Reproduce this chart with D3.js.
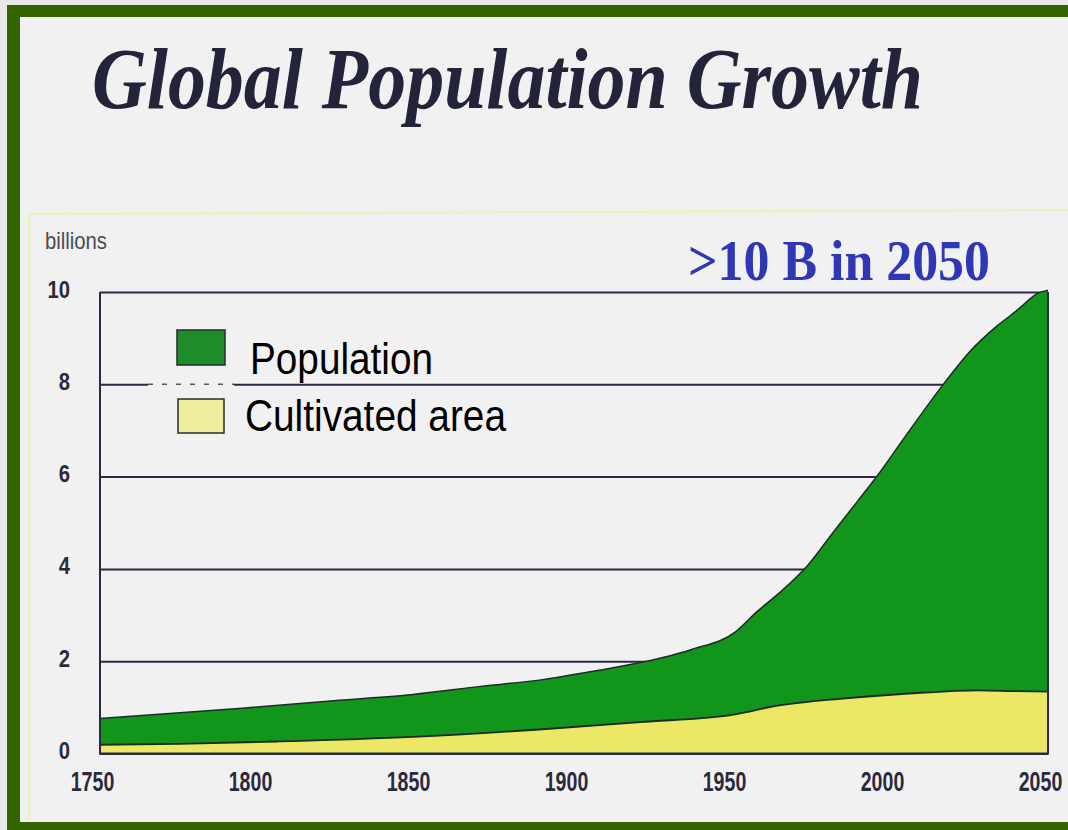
<!DOCTYPE html>
<html>
<head>
<meta charset="utf-8">
<script src="https://cdn.jsdelivr.net/npm/d3@7"></script>
<style>
  html, body { margin: 0; padding: 0; background: #ececec; }
  svg { display: block; }
</style>
</head>
<body>
<svg id="chart" width="1068" height="830"></svg>
<script>
// ---- data ----
const popYears  = [1750, 1795, 1823, 1849, 1871, 1889, 1905, 1921, 1937, 1951, 1958, 1965, 1974, 1982, 1990, 1996, 2004, 2017, 2025, 2034, 2040, 2047, 2050];
const popValues = [0.76, 0.98, 1.14, 1.28, 1.46, 1.59, 1.77, 1.97, 2.25, 2.63, 3.08, 3.48, 4.08, 4.79, 5.49, 6.02, 6.79, 8.01, 8.69, 9.27, 9.59, 9.98, 10.04];
const cultYears  = [1750, 1775, 1806, 1849, 1889, 1921, 1951, 1964, 1985, 2006, 2028, 2040, 2050];
const cultValues = [0.19, 0.21, 0.26, 0.36, 0.52, 0.68, 0.85, 1.03, 1.19, 1.30, 1.37, 1.35, 1.34];
const xTicks = [1750, 1800, 1850, 1900, 1950, 2000, 2050];
const yTicks = [0, 2, 4, 6, 8, 10];
const seriesNames = ["Population", "Cultivated area"];
const titleText = "Global Population Growth";
const noteText = ">10 B in 2050";
const unitText = "billions";

const popData = popYears.map((yr, i) => ({year: yr, value: popValues[i]}));
const cultData = cultYears.map((yr, i) => ({year: yr, value: cultValues[i]}));

const svg = d3.select("#chart");
const W = 1068, H = 830;

// ---- slide frame ----
svg.append("rect").attr("x", 0).attr("y", 0).attr("width", W).attr("height", H).attr("fill", "#e9e9e9");
svg.append("rect").attr("x", 20).attr("y", 17).attr("width", W - 20).attr("height", 805).attr("fill", "#f1f1f1");
svg.append("rect").attr("x", 7).attr("y", 5).attr("width", W - 7).attr("height", 12).attr("fill", "#336600");
svg.append("rect").attr("x", 7).attr("y", 5).attr("width", 13).attr("height", H - 5).attr("fill", "#336600");
svg.append("rect").attr("x", 7).attr("y", 822).attr("width", W - 7).attr("height", 8).attr("fill", "#336600");

// pale panel border
svg.append("path").attr("d", "M29,820 L29,214 L1068,210")
  .attr("fill", "none").attr("stroke", "#eef0c4").attr("stroke-width", 2.5);

// ---- title ----
svg.append("text")
  .attr("x", 92).attr("y", 108)
  .attr("font-family", "'Liberation Serif', 'Times New Roman', serif")
  .attr("font-weight", "bold").attr("font-style", "italic")
  .attr("font-size", 86)
  .attr("textLength", 831).attr("lengthAdjust", "spacingAndGlyphs")
  .attr("fill", "#23233a")
  .text(titleText);

// ---- scales ----
const x = d3.scaleLinear().domain([1750, 2050]).range([100, 1048]);
const y = d3.scaleLinear().domain([0, 10]).range([753.5, 292]);

// ---- grid lines + y labels ----
const ySx = 0.88;
const yPad = 30;
const yAxis = svg.append("g")
  .attr("transform", `translate(${x(1750)},0)`)
  .call(d3.axisLeft(y).tickValues(yTicks).tickSize(-(x(2050) - x(1750))).tickPadding(yPad).tickFormat(d3.format("d")));
yAxis.select(".domain").remove();
yAxis.selectAll(".tick line").attr("stroke", "#2a2a45").attr("stroke-width", 2);
yAxis.selectAll(".tick text")
  .attr("font-family", "'Liberation Sans', Arial, sans-serif")
  .attr("font-weight", "bold").attr("font-size", 23)
  .attr("fill", "#2a2a3c")
  .attr("x", -(yPad) / ySx)
  .attr("dy", "0.22em")
  .attr("transform", `scale(${ySx},1)`);

// legend partly hides the 8 gridline
svg.append("rect").attr("x", 148).attr("y", y(8) - 3).attr("width", 86).attr("height", 6).attr("fill", "#f1f1f1");
svg.append("line").attr("x1", 148).attr("x2", 234).attr("y1", y(8)).attr("y2", y(8))
  .attr("stroke", "#55556a").attr("stroke-width", 1.5).attr("stroke-dasharray", "5,9");

// ---- areas ----
const curve = d3.curveMonotoneX;
const area = d3.area().curve(curve).x(d => x(d.year)).y0(y(0)).y1(d => y(d.value));
const line = d3.line().curve(curve).x(d => x(d.year)).y(d => y(d.value));

svg.append("path").datum(popData).attr("d", area).attr("fill", "#11951a");
svg.append("path").datum(popData).attr("d", line).attr("fill", "none").attr("stroke", "#1f2a2a").attr("stroke-width", 1.5);
svg.append("path").datum(cultData).attr("d", area).attr("fill", "#ece866");
svg.append("path").datum(cultData).attr("d", line).attr("fill", "none").attr("stroke", "#1f2a2a").attr("stroke-width", 1.8);

// plot border (left, bottom, right)
svg.append("path")
  .attr("d", `M${x(1750)},${y(10)} L${x(1750)},${y(0)} L${x(2050)},${y(0)} L${x(2050)},${y(10)}`)
  .attr("fill", "none").attr("stroke", "#2a2a45").attr("stroke-width", 2);

// ---- x labels ----
const xSx = 0.70;
const xAxis = svg.append("g")
  .attr("transform", `translate(-8,${y(0) + 16})`)
  .call(d3.axisBottom(x).tickValues(xTicks).tickSize(0).tickPadding(0).tickFormat(d3.format("d")));
xAxis.select(".domain").remove();
xAxis.selectAll(".tick text")
  .attr("font-family", "'Liberation Sans', Arial, sans-serif")
  .attr("font-weight", "bold").attr("font-size", 28)
  .attr("fill", "#2a2a3c")
  .attr("dy", "0.78em")
  .attr("transform", `scale(${xSx},1)`);

// ---- unit label ----
svg.append("text")
  .attr("x", 45).attr("y", 249)
  .attr("font-family", "'Liberation Sans', Arial, sans-serif")
  .attr("font-size", 24).attr("fill", "#4a4a55")
  .attr("textLength", 62).attr("lengthAdjust", "spacingAndGlyphs")
  .text(unitText);

// ---- annotation ----
svg.append("text")
  .attr("x", 688).attr("y", 280)
  .attr("font-family", "'Liberation Serif', 'Times New Roman', serif")
  .attr("font-weight", "bold").attr("font-size", 57)
  .attr("textLength", 302).attr("lengthAdjust", "spacingAndGlyphs")
  .attr("fill", "#2f37b4")
  .text(noteText);

// ---- legend ----
const legendRows = [
  {name: seriesNames[0], fill: "#1e8c28", box: [177, 330, 48, 35], tx: 250, ty: 374, tl: 183},
  {name: seriesNames[1], fill: "#eeee9e", box: [178, 399, 46, 34], tx: 245, ty: 431, tl: 261}
];
const lg = svg.append("g");
lg.selectAll("rect").data(legendRows).join("rect")
  .attr("x", d => d.box[0]).attr("y", d => d.box[1])
  .attr("width", d => d.box[2]).attr("height", d => d.box[3])
  .attr("fill", d => d.fill).attr("stroke", "#2a2a2a").attr("stroke-width", 1.5);
lg.selectAll("text").data(legendRows).join("text")
  .attr("x", d => d.tx).attr("y", d => d.ty)
  .attr("font-family", "'Liberation Sans', Arial, sans-serif")
  .attr("font-size", 44).attr("fill", "#000")
  .attr("textLength", d => d.tl).attr("lengthAdjust", "spacingAndGlyphs")
  .text(d => d.name);
</script>
</body>
</html>
